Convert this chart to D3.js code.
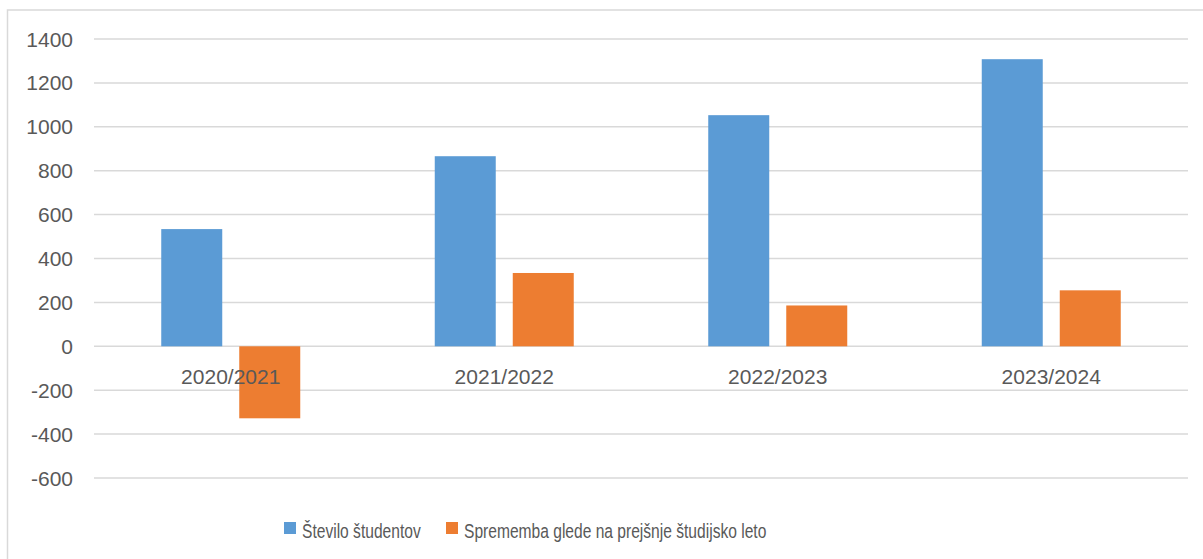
<!DOCTYPE html>
<html>

<head>
    <title>Število študentov</title>
    <script src="https://cdnjs.cloudflare.com/ajax/libs/d3/7.8.5/d3.min.js"></script>
    <style>
        body {
            margin: 0;
            background: #fff;
        }

        text {
            font-family: "Liberation Sans", Arial, sans-serif;
            fill: #595959;
        }
    </style>
</head>

<body>
    <div id="chart"></div>
    <script>
        // Data
        const years = ["2020/2021", "2021/2022", "2022/2023", "2023/2024"];
        const students = [534, 866, 1053, 1308];
        const change = [-328, 334, 186, 255];
        const seriesNames = ["Število študentov", "Sprememba glede na prejšnje študijsko leto"];
        const seriesColors = ["#5B9BD5", "#ED7D31"];
        const yTicks = [-600, -400, -200, 0, 200, 400, 600, 800, 1000, 1200, 1400];

        const width = 1203, height = 559;

        const svg = d3.select("#chart")
            .append("svg")
            .attr("width", width)
            .attr("height", height);

        // Chart border (cut off at right and bottom, like the screenshot)
        svg.append("rect")
            .attr("x", 7.5)
            .attr("y", 10)
            .attr("width", 1220)
            .attr("height", 580)
            .attr("fill", "none")
            .attr("stroke", "#d9d9d9")
            .attr("stroke-width", 1.5);

        const y = d3.scaleLinear()
            .domain([-600, 1400])
            .range([478, 39]);

        const x0 = d3.scaleBand()
            .domain(years)
            .range([94, 1188])
            .padding(0);

        // two bars per group: 61px wide, 17px apart
        const groupW = 139;
        const x1 = d3.scaleBand()
            .domain([0, 1])
            .range([(x0.bandwidth() - groupW) / 2, (x0.bandwidth() + groupW) / 2])
            .paddingInner(0.218);

        // Gridlines
        svg.append("g")
            .selectAll("line")
            .data(yTicks)
            .join("line")
            .attr("x1", 94)
            .attr("x2", 1188)
            .attr("y1", d => y(d))
            .attr("y2", d => y(d))
            .attr("stroke", "#d9d9d9")
            .attr("stroke-width", 1.5);

        // Y tick labels
        svg.append("g")
            .selectAll("text")
            .data(yTicks)
            .join("text")
            .attr("x", 73)
            .attr("y", d => y(d))
            .attr("dy", "0.36em")
            .attr("text-anchor", "end")
            .style("font-size", "21px")
            .text(d => d);

        // Bars
        const series = [students, change];
        const groups = svg.append("g")
            .selectAll("g")
            .data(years)
            .join("g")
            .attr("transform", d => `translate(${x0(d)},0)`);

        groups.selectAll("rect")
            .data((d, i) => series.map((s, k) => ({ k: k, v: s[i] })))
            .join("rect")
            .attr("x", d => x1(d.k))
            .attr("width", x1.bandwidth())
            .attr("y", d => y(Math.max(0, d.v)))
            .attr("height", d => Math.abs(y(d.v) - y(0)))
            .attr("fill", d => seriesColors[d.k]);

        // Category labels just under the zero line
        svg.append("g")
            .selectAll("text")
            .data(years)
            .join("text")
            .attr("x", d => x0(d) + x0.bandwidth() / 2)
            .attr("y", 384)
            .attr("text-anchor", "middle")
            .style("font-size", "21px")
            .text(d => d);

        // Legend (text narrowed a bit, the original font is condensed)
        const legendX = [284, 446];
        const legend = svg.append("g")
            .selectAll("g")
            .data(seriesNames)
            .join("g")
            .attr("transform", (d, i) => `translate(${legendX[i]},522)`);

        legend.append("rect")
            .attr("width", 12)
            .attr("height", 12)
            .attr("fill", (d, i) => seriesColors[i]);

        legend.append("text")
            .attr("transform", "translate(18,15.5) scale(0.8,1)")
            .style("font-size", "19.5px")
            .text(d => d);
    </script>
</body>

</html>
